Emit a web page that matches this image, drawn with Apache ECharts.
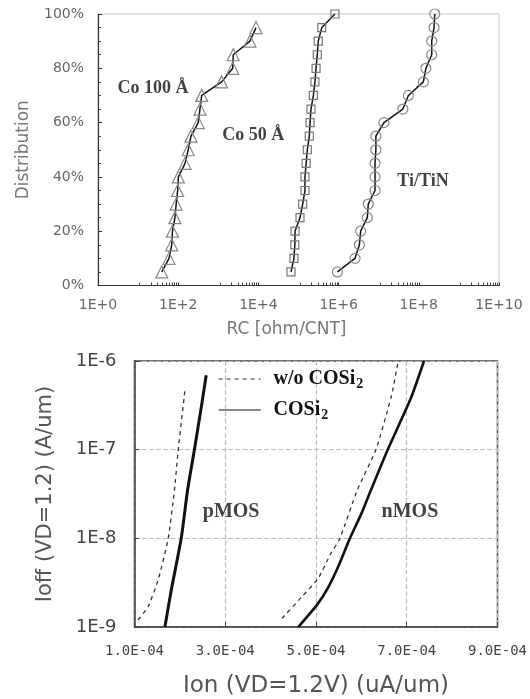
<!DOCTYPE html>
<html>
<head>
<meta charset="utf-8">
<script src="https://cdn.jsdelivr.net/npm/echarts@6/dist/echarts.min.js"></script>
<style>
  html, body { margin: 0; padding: 0; background: #fff; }
  #main { width: 530px; height: 699px; }
</style>
</head>
<body>
<div id="main"></div>
<script>
  // top chart: cumulative distribution of contact resistance
  var distPct = [5, 10, 15, 20, 25, 30, 35, 40, 45, 50, 55, 60, 65, 70, 75, 80, 85, 90, 95, 100];
  var co100Rc = [39, 59, 69, 72, 83, 89, 97, 101, 148, 178, 208, 316, 349, 386, 1210, 2290, 2360, 6170, 8700];
  var co50Rc = [65000, 77000, 81000, 82000, 109000, 127000, 145000, 145000, 155000, 166000,
                186000, 194000, 205000, 235000, 257000, 274000, 294000, 311000, 380000, 810000];
  var tiRc = [930000, 2.57e6, 3.3e6, 3.55e6, 5.2e6, 5.5e6, 8.1e6, 8.1e6, 8.1e6, 8.5e6,
              8.5e6, 1.35e7, 4.0e7, 5.5e7, 1.3e8, 1.5e8, 2.1e8, 2.1e8, 2.4e8, 2.5e8];
  var topNotes = ['Co 100 Å', 'Co 50 Å', 'Ti/TiN'];
  var topNoteRc = [23.5, 7400, 1.27e8];
  var topNotePct = [72.5, 55.4, 38.2];

  // bottom chart: Ion / Ioff
  var pSolidIon = [1.67e-4, 1.81e-4, 2.03e-4, 2.17e-4, 2.32e-4, 2.48e-4, 2.58e-4];
  var pSolidIoff = [1.0e-9, 2.6e-9, 1.0e-8, 3.5e-8, 1.0e-7, 3.2e-7, 6.9e-7];
  var pDashIon = [1.08e-4, 1.30e-4, 1.52e-4, 1.74e-4, 1.88e-4, 1.96e-4, 2.12e-4];
  var pDashIoff = [1.2e-9, 1.7e-9, 3.4e-9, 9.8e-9, 3.5e-8, 9.5e-8, 5.1e-7];
  var nSolidIon = [4.61e-4, 5.03e-4, 5.27e-4, 5.49e-4, 5.74e-4, 6.00e-4, 6.21e-4, 6.58e-4, 7.09e-4, 7.38e-4];
  var nSolidIoff = [1.0e-9, 1.8e-9, 2.8e-9, 4.8e-9, 9.8e-9, 1.9e-8, 3.5e-8, 1.0e-7, 3.8e-7, 1.0e-6];
  var nDashIon = [4.25e-4, 4.69e-4, 5.05e-4, 5.33e-4, 5.52e-4, 5.91e-4, 6.32e-4, 6.66e-4, 6.80e-4];
  var nDashIoff = [1.25e-9, 2.2e-9, 3.55e-9, 6.8e-9, 9.8e-9, 3.5e-8, 1.0e-7, 4.0e-7, 9.3e-7];
  var botNotes = ['pMOS', 'nMOS'];
  var botNoteIon = [3.13e-4, 7.07e-4];
  var botNoteIoff = [2.0e-8, 2.0e-8];
  var legendNames = ['w/o COSi2', 'COSi2'];

  function zip(xs, ys) {
    var out = [];
    for (var i = 0; i < xs.length; i++) out.push([xs[i], ys[i]]);
    return out;
  }
  function notes(names, xs, ys) {
    var out = [];
    for (var i = 0; i < names.length; i++) out.push({ name: names[i], value: [xs[i], ys[i]] });
    return out;
  }

  var noteFont = { fontFamily: 'Liberation Serif', fontWeight: 'bold', color: '#111' };

  var myChart = echarts.init(document.getElementById('main'));
  myChart.setOption({
    animation: false,
    backgroundColor: '#fff',
    grid: [
      { left: 98, right: 31, top: 14, height: 271.5, show: true, borderColor: '#c8c8c8', borderWidth: 1 },
      { left: 134.5, right: 29, top: 361, height: 266, show: true, borderColor: '#444', borderWidth: 1.5 }
    ],
    legend: {
      data: legendNames,
      orient: 'vertical',
      left: 213,
      top: 364,
      itemWidth: 42,
      itemHeight: 14,
      itemGap: 9,
      lineStyle: { width: 1.2 },
      itemStyle: { opacity: 0 },
      formatter: function (name) {
        return name === 'COSi2' ? '{b|COSi}{s|2}' : '{b|w/o COSi}{s|2}';
      },
      textStyle: {
        padding: [0, 0, 0, 8],
        rich: {
          b: { fontFamily: 'Liberation Serif', fontWeight: 'bold', fontSize: 20, color: '#111' },
          s: { fontFamily: 'Liberation Serif', fontWeight: 'bold', fontSize: 14, color: '#111', padding: [10, 0, 0, 1] }
        }
      }
    },
    xAxis: [
      {
        gridIndex: 0,
        type: 'log',
        logBase: 10,
        min: 1,
        max: 1e10,
        interval: 2,
        axisLine: { lineStyle: { color: '#333', width: 1.2 } },
        axisTick: { inside: true, length: 3, lineStyle: { color: '#333' } },
        minorTick: { show: true, splitNumber: 10, length: 3, lineStyle: { color: '#444' } },
        splitLine: { show: false },
        axisLabel: {
          color: '#666', fontSize: 14, fontFamily: 'DejaVu Sans', margin: 13,
          formatter: function (v) { return '1E+' + Math.round(Math.log10(v)); }
        },
        name: 'RC [ohm/CNT]',
        nameLocation: 'middle',
        nameGap: 36,
        nameTextStyle: { color: '#777', fontSize: 17, fontFamily: 'DejaVu Sans', padding: [0, 24, 0, 0] }
      },
      {
        gridIndex: 1,
        type: 'value',
        min: 1e-4,
        max: 9e-4,
        interval: 2e-4,
        axisLine: { lineStyle: { color: '#444', width: 1.5 } },
        axisTick: { inside: true, length: 5, lineStyle: { color: '#444' } },
        splitLine: { show: true, lineStyle: { type: 'dashed', color: '#bbb', width: 1.2 } },
        axisLabel: {
          color: '#444', fontSize: 14, fontFamily: 'DejaVu Sans Mono', margin: 17,
          formatter: function (v) {
            var e = Math.floor(Math.log10(v) + 1e-9);
            var m = v / Math.pow(10, e);
            return m.toFixed(1) + 'E-' + ('0' + (-e)).slice(-2);
          }
        },
        name: 'Ion (VD=1.2V) (uA/um)',
        nameLocation: 'middle',
        nameGap: 48,
        nameTextStyle: { color: '#555', fontSize: 23, fontFamily: 'DejaVu Sans' }
      }
    ],
    yAxis: [
      {
        gridIndex: 0,
        type: 'value',
        min: 0,
        max: 100,
        interval: 20,
        axisLine: { show: true, lineStyle: { color: '#333', width: 1.2 } },
        axisTick: { show: true, inside: true, length: 4, lineStyle: { color: '#333' } },
        minorTick: { show: true, splitNumber: 4, length: 3, lineStyle: { color: '#444' } },
        splitLine: { show: false },
        axisLabel: { color: '#666', fontSize: 14, fontFamily: 'DejaVu Sans', margin: 14, formatter: '{value}%' },
        name: 'Distribution',
        nameLocation: 'middle',
        nameGap: 66,
        nameTextStyle: { color: '#777', fontSize: 17, fontFamily: 'DejaVu Sans' }
      },
      {
        gridIndex: 1,
        type: 'log',
        logBase: 10,
        min: 1e-9,
        max: 1e-6,
        axisLine: { show: true, lineStyle: { color: '#444', width: 1.5 } },
        axisTick: { show: true, inside: true, length: 5, lineStyle: { color: '#444' } },
        splitLine: { show: true, lineStyle: { type: 'dashed', color: '#bbb', width: 1.2 } },
        axisLabel: {
          color: '#444', fontSize: 18, fontFamily: 'DejaVu Sans', margin: 18,
          formatter: function (v) { return '1E' + Math.round(Math.log10(v)); }
        },
        name: 'Ioff (VD=1.2) (A/um)',
        nameLocation: 'middle',
        nameGap: 78,
        nameTextStyle: { color: '#555', fontSize: 21, fontFamily: 'DejaVu Sans' }
      }
    ],
    series: [
      {
        name: 'Co 100 Å', type: 'line', xAxisIndex: 0, yAxisIndex: 0,
        data: zip(co100Rc, distPct.slice(0, co100Rc.length)),
        symbol: 'triangle', symbolSize: 12,
        itemStyle: { color: 'transparent', borderColor: '#888', borderWidth: 1.2 },
        lineStyle: { color: '#111', width: 1.5 }
      },
      {
        name: 'Co 50 Å', type: 'line', xAxisIndex: 0, yAxisIndex: 0,
        data: zip(co50Rc, distPct),
        symbol: 'rect', symbolSize: 8,
        itemStyle: { color: 'transparent', borderColor: '#777', borderWidth: 1.2 },
        lineStyle: { color: '#111', width: 1.5 }
      },
      {
        name: 'Ti/TiN', type: 'line', xAxisIndex: 0, yAxisIndex: 0,
        data: zip(tiRc, distPct),
        symbol: 'circle', symbolSize: 10,
        itemStyle: { color: 'transparent', borderColor: '#888', borderWidth: 1.2 },
        lineStyle: { color: '#111', width: 1.5 }
      },
      {
        name: 'topNotes', type: 'scatter', xAxisIndex: 0, yAxisIndex: 0,
        data: notes(topNotes, topNoteRc, topNotePct),
        symbolSize: 0, silent: true,
        label: { show: true, position: 'inside', formatter: '{b}', fontSize: 18, ...noteFont }
      },
      {
        name: legendNames[0], type: 'line', xAxisIndex: 1, yAxisIndex: 1,
        data: zip(pDashIon, pDashIoff), symbol: 'none', smooth: 0.2,
        itemStyle: { color: '#333' },
        lineStyle: { color: '#333', width: 1.3, type: [4, 4] }
      },
      {
        name: legendNames[1], type: 'line', xAxisIndex: 1, yAxisIndex: 1,
        data: zip(pSolidIon, pSolidIoff), symbol: 'none', smooth: 0.2,
        itemStyle: { color: '#111' },
        lineStyle: { color: '#111', width: 3 }
      },
      {
        name: legendNames[0], type: 'line', xAxisIndex: 1, yAxisIndex: 1,
        data: zip(nDashIon, nDashIoff), symbol: 'none', smooth: 0.2,
        itemStyle: { color: '#333' },
        lineStyle: { color: '#333', width: 1.3, type: [4, 4] }
      },
      {
        name: legendNames[1], type: 'line', xAxisIndex: 1, yAxisIndex: 1,
        data: zip(nSolidIon, nSolidIoff), symbol: 'none', smooth: 0.2,
        itemStyle: { color: '#111' },
        lineStyle: { color: '#111', width: 2.6 }
      },
      {
        name: 'botNotes', type: 'scatter', xAxisIndex: 1, yAxisIndex: 1,
        data: notes(botNotes, botNoteIon, botNoteIoff),
        symbolSize: 0, silent: true,
        label: { show: true, position: 'inside', formatter: '{b}', fontSize: 20, ...noteFont }
      }
    ]
  });
  window.onresize = myChart.resize;
</script>
</body>
</html>
